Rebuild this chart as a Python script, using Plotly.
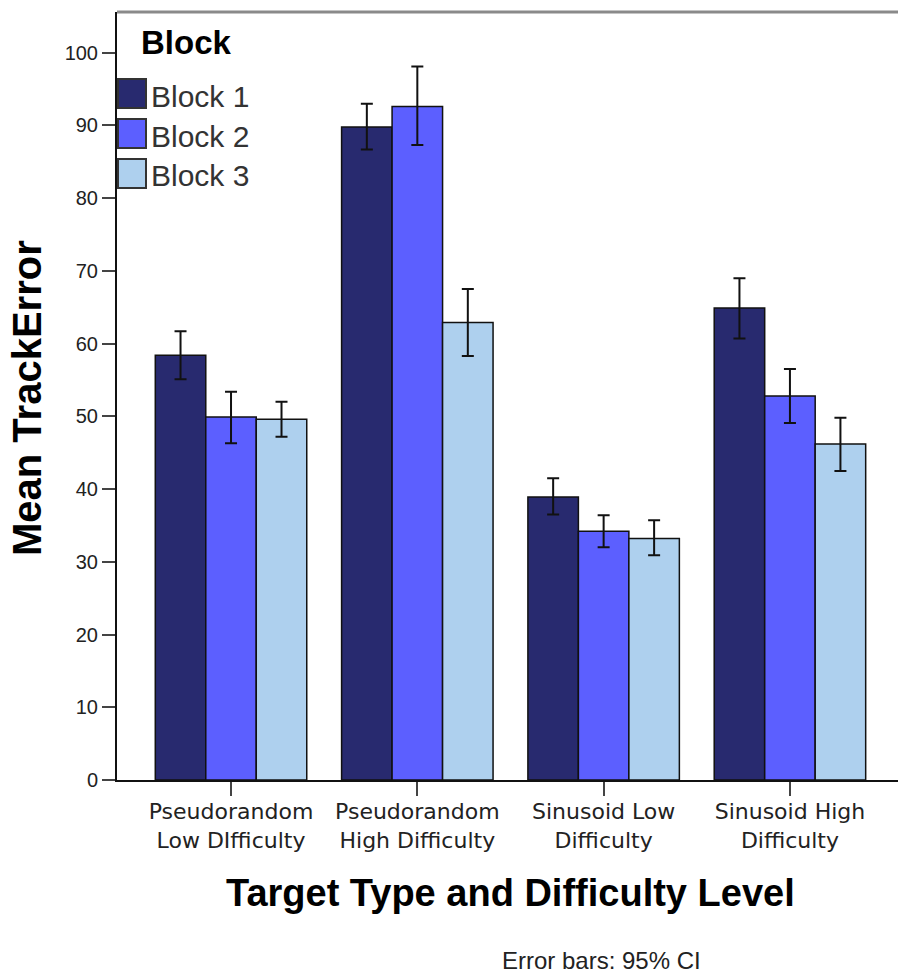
import plotly.graph_objects as go

categories = ["Pseudorandom<br>Low DIfficulty", "Pseudorandom<br>High Difficulty",
              "Sinusoid Low<br>Difficulty", "Sinusoid High<br>Difficulty"]
series_names = ["Block 1", "Block 2", "Block 3"]
means = {
    "Block 1": [58.4, 89.8, 38.9, 64.9],
    "Block 2": [49.9, 92.6, 34.2, 52.8],
    "Block 3": [49.6, 62.9, 33.2, 46.2],
}
ci_upper = {
    "Block 1": [61.7, 93.0, 41.5, 69.0],
    "Block 2": [53.4, 98.1, 36.4, 56.5],
    "Block 3": [52.0, 67.5, 35.7, 49.8],
}
ci_lower = {
    "Block 1": [55.1, 86.7, 36.5, 60.7],
    "Block 2": [46.3, 87.3, 32.0, 49.1],
    "Block 3": [47.2, 58.3, 30.9, 42.5],
}
colors = ["#282a6f", "#5c5fff", "#aed0ee"]
y_ticks = [0, 10, 20, 30, 40, 50, 60, 70, 80, 90, 100]

W, H = 898, 974
ML, MR, MT, MB = 117, 0, 12, 194
PW, PH = W - ML - MR, H - MT - MB


def px(x):
    return (x - ML) / PW


def py(y):
    return (H - MB - y) / PH


fig = go.Figure()
for name, col in zip(series_names, colors):
    m = means[name]
    up = [u - v for u, v in zip(ci_upper[name], m)]
    lo = [v - l for v, l in zip(m, ci_lower[name])]
    fig.add_trace(go.Bar(
        x=list(range(len(categories))), y=m, name=name,
        marker=dict(color=col, line=dict(color="#111111", width=1.5)),
        error_y=dict(type="data", symmetric=False, array=up, arrayminus=lo,
                     color="#111111", thickness=2, width=6),
        showlegend=False,
    ))

font_main = "Liberation Sans, Arial, sans-serif"
fig.update_layout(
    width=W, height=H,
    margin=dict(l=ML, r=MR, t=MT, b=MB),
    paper_bgcolor="white", plot_bgcolor="white",
    barmode="group", bargap=0.187, bargroupgap=0,
    font=dict(family=font_main, color="#222222"),
    xaxis=dict(
        range=[-0.612, 3.58], tickmode="array",
        tickvals=list(range(len(categories))), ticktext=categories,
        ticks="outside", ticklen=14, tickwidth=2, tickcolor="#444444",
        showline=True, linecolor="#111111", linewidth=2,
        showgrid=False, zeroline=False, ticklabelstandoff=-3,
        tickfont=dict(size=22, color="#222222", family="DejaVu Sans, sans-serif"),
    ),
    yaxis=dict(
        range=[0, 105.6], tickmode="array", tickvals=y_ticks,
        ticks="outside", ticklen=13, tickwidth=2, tickcolor="#444444",
        showline=True, linecolor="#111111", linewidth=2,
        showgrid=False, zeroline=False,
        tickfont=dict(size=20, color="#222222"),
    ),
)

# top frame line
fig.add_shape(type="line", xref="paper", yref="paper", x0=0, x1=1, y0=1, y1=1,
              line=dict(color="#8a8a8a", width=3))

# axis titles and caption
fig.add_annotation(text="<b>Mean TrackError</b>", xref="paper", yref="paper",
                   x=px(27), y=py(398), textangle=-90, showarrow=False,
                   font=dict(size=40, color="#000000", family=font_main),
                   xanchor="center", yanchor="middle")
fig.add_annotation(text="<b>Target Type and Difficulty Level</b>", xref="paper", yref="paper",
                   x=px(510), y=py(893), showarrow=False,
                   font=dict(size=38, color="#000000", family=font_main),
                   xanchor="center", yanchor="middle")
fig.add_annotation(text="Error bars: 95% CI", xref="paper", yref="paper",
                   x=px(601), y=py(960), showarrow=False,
                   font=dict(size=24, color="#222222", family=font_main),
                   xanchor="center", yanchor="middle")

# legend (drawn manually to match large swatches)
fig.add_annotation(text="<b>Block</b>", xref="paper", yref="paper",
                   x=px(139), y=py(42), showarrow=False,
                   font=dict(size=33, color="#000000", family=font_main),
                   xanchor="left", yanchor="middle")
sw_tops = [79, 119, 159]
for name, col, top in zip(series_names, colors, sw_tops):
    fig.add_shape(type="rect", xref="paper", yref="paper",
                  x0=px(118), x1=px(146), y0=py(top + 29), y1=py(top),
                  fillcolor=col, line=dict(color="#333333", width=2))
    fig.add_annotation(text=name, xref="paper", yref="paper",
                       x=px(149), y=py(top + 17), showarrow=False,
                       font=dict(size=30, color="#333333", family=font_main),
                       xanchor="left", yanchor="middle")

fig.write_html("out.html")
